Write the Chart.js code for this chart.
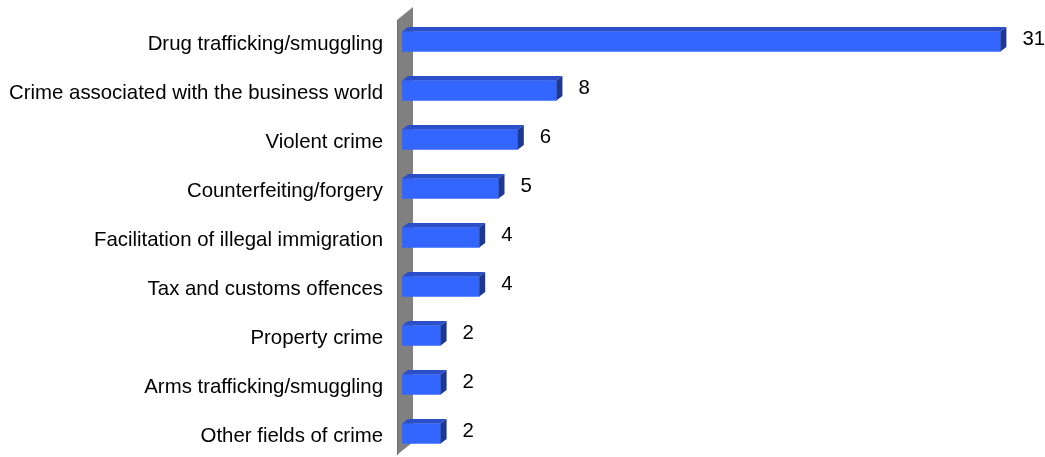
<!DOCTYPE html>
<html>
<head>
<meta charset="utf-8">
<script src="https://cdn.jsdelivr.net/npm/chart.js@4/dist/chart.umd.min.js"></script>
<style>
  html, body { margin: 0; padding: 0; background: #fff; overflow: hidden; }
  #wrap { width: 1045px; height: 460px; }
</style>
</head>
<body>
<div id="wrap"><canvas id="myChart"></canvas></div>
<script>
var categories = [
  "Drug trafficking/smuggling",
  "Crime associated with the business world",
  "Violent crime",
  "Counterfeiting/forgery",
  "Facilitation of illegal immigration",
  "Tax and customs offences",
  "Property crime",
  "Arms trafficking/smuggling",
  "Other fields of crime"
];
var cases = [31, 8, 6, 5, 4, 4, 2, 2, 2];

var FRONT = "#3366ff";
var TOP   = "#2b4fc9";
var SIDE  = "#1e3891";
var DEPTH_X = 6, DEPTH_Y = 4.5;
var FONT_FAMILY = "'Liberation Sans', Arial, sans-serif";
var FONT_SIZE = 20.4;

// grey side wall behind the bars plus the 3D faces and value labels
var boxPlugin = {
  id: "box3d",
  beforeDatasetsDraw: function(chart) {
    var ctx = chart.ctx;
    var area = chart.chartArea;
    var x0 = chart.scales.x.getPixelForValue(0);
    ctx.save();
    ctx.fillStyle = "#808080";
    ctx.beginPath();
    ctx.moveTo(x0 - 5, area.top + 3);
    ctx.lineTo(x0 + 11, area.top - 10);
    ctx.lineTo(x0 + 11, area.bottom - 16);
    ctx.lineTo(x0 - 5, area.bottom - 3);
    ctx.closePath();
    ctx.fill();
    ctx.strokeStyle = "#6e6e6e";
    ctx.lineWidth = 1;
    ctx.beginPath();
    ctx.moveTo(x0 - 4.5, area.top + 3);
    ctx.lineTo(x0 - 4.5, area.bottom - 3);
    ctx.stroke();
    ctx.restore();
  },
  afterDatasetsDraw: function(chart) {
    var ctx = chart.ctx;
    var meta = chart.getDatasetMeta(0);
    ctx.save();
    meta.data.forEach(function(bar, i) {
      var left = bar.base;
      var right = bar.x;
      var top = bar.y - bar.height / 2;
      var bottom = bar.y + bar.height / 2;

      ctx.fillStyle = TOP;
      ctx.beginPath();
      ctx.moveTo(left, top);
      ctx.lineTo(right, top);
      ctx.lineTo(right + DEPTH_X, top - DEPTH_Y);
      ctx.lineTo(left + DEPTH_X, top - DEPTH_Y);
      ctx.closePath();
      ctx.fill();

      ctx.fillStyle = SIDE;
      ctx.beginPath();
      ctx.moveTo(right, top);
      ctx.lineTo(right + DEPTH_X, top - DEPTH_Y);
      ctx.lineTo(right + DEPTH_X, bottom - DEPTH_Y);
      ctx.lineTo(right, bottom);
      ctx.closePath();
      ctx.fill();

      ctx.fillStyle = "#000";
      ctx.font = FONT_SIZE + "px " + FONT_FAMILY;
      ctx.textAlign = "left";
      ctx.textBaseline = "middle";
      ctx.fillText(String(cases[i]), right + 22, bar.y - 2);
    });
    ctx.restore();
  }
};

var ctx = document.getElementById("myChart").getContext("2d");

var myChart = new Chart(ctx, {
  type: "bar",
  data: {
    labels: categories,
    datasets: [{
      data: cases,
      backgroundColor: FRONT,
      borderWidth: 0,
      barThickness: 20
    }]
  },
  plugins: [boxPlugin],
  options: {
    indexAxis: "y",
    responsive: true,
    maintainAspectRatio: false,
    animation: false,
    layout: { padding: { top: 17, bottom: 2, left: 0, right: 6 } },
    plugins: {
      legend: { display: false },
      tooltip: { enabled: false }
    },
    scales: {
      x: {
        display: false,
        min: 0,
        max: 33
      },
      y: {
        grid: { display: false, drawTicks: false },
        border: { display: false },
        afterFit: function(scale) {
          scale.width = 402;
          scale.paddingTop = 0;
          scale.paddingBottom = 0;
        },
        ticks: {
          padding: 19,
          labelOffset: 3,
          color: "#000",
          font: { family: FONT_FAMILY, size: FONT_SIZE }
        }
      }
    }
  }
});
</script>
</body>
</html>
